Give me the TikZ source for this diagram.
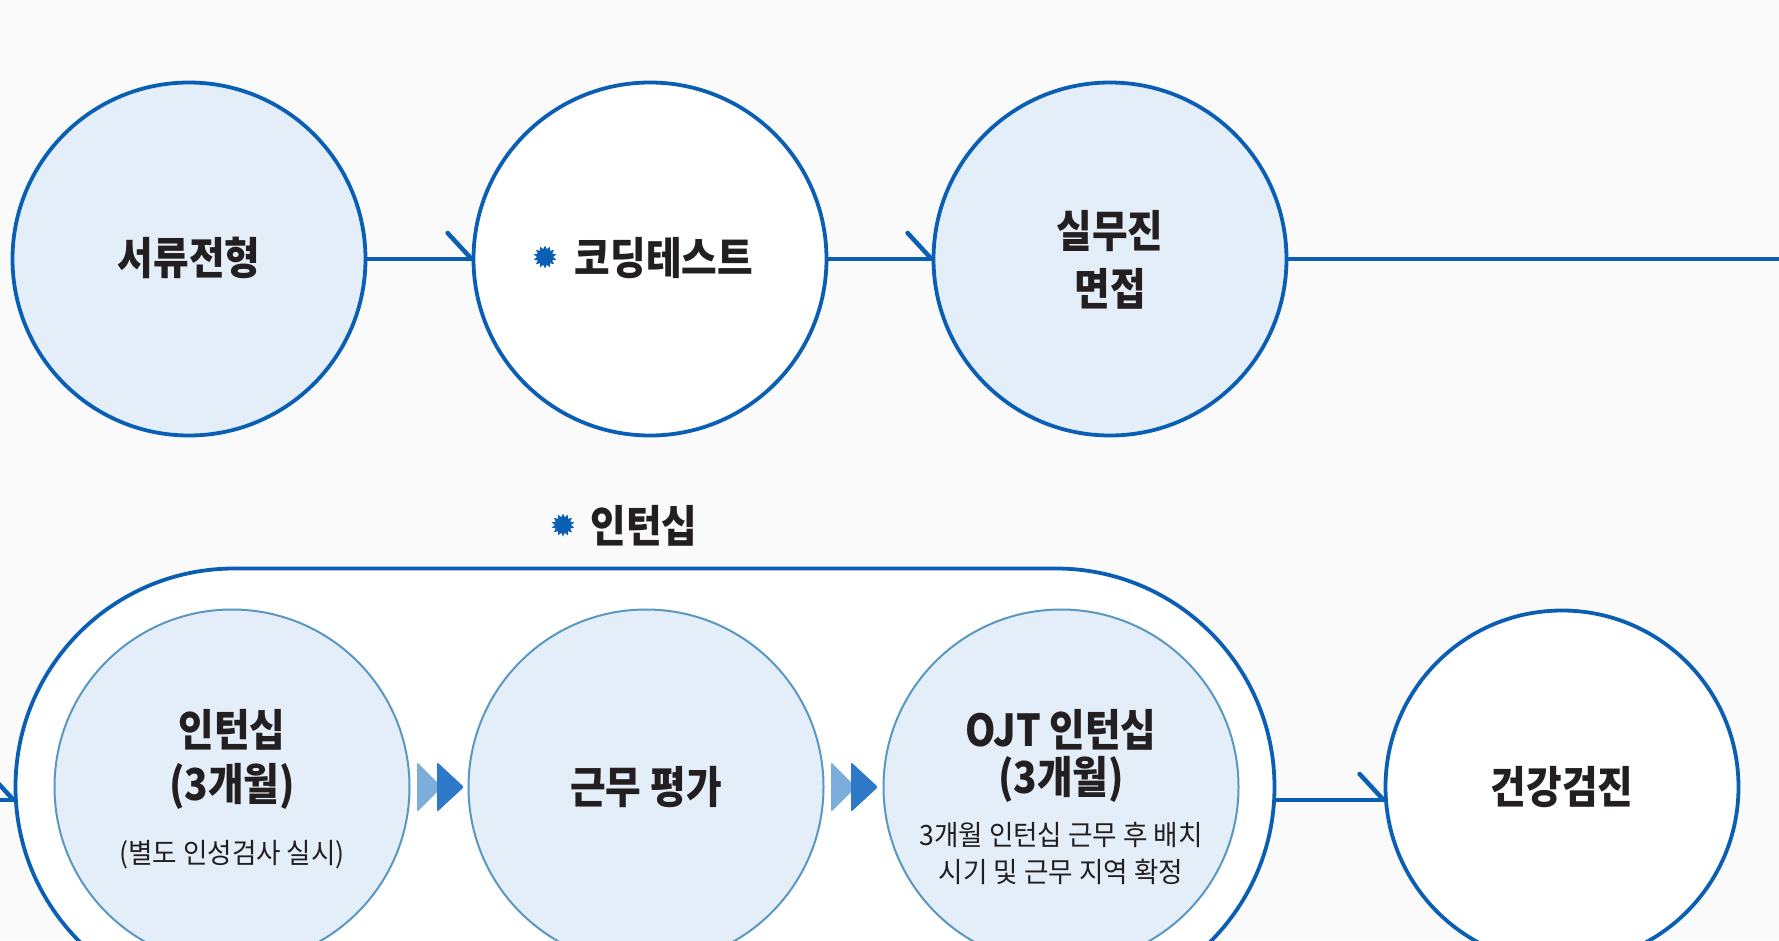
\documentclass[tikz,border=0pt]{standalone}
\usepackage{fontspec}
\newfontfamily\kr[FakeStretch=0.88]{Noto Sans CJK KR}
\newfontfamily\krs[FakeStretch=0.95]{Noto Sans CJK KR}
\usetikzlibrary{shapes.geometric,shapes.misc,calc}
\definecolor{mblue}{HTML}{0A5FB4}
\definecolor{sblue}{HTML}{5A97C2}
\definecolor{lfill}{HTML}{E3EEF8}
\definecolor{bgc}{HTML}{FAFAFA}
\definecolor{ink}{HTML}{231F20}
\definecolor{chevl}{HTML}{7DAEDB}
\definecolor{chevd}{HTML}{2D79C7}
\tikzset{
  bigc/.style={circle, draw=mblue, line width=3.8pt, minimum size=353pt, inner sep=0pt},
  innc/.style={circle, draw=sblue, line width=2pt, fill=lfill, minimum size=355pt, inner sep=0pt},
  tbig/.style={font=\kr\bfseries\fontsize{44}{58}\selectfont, text=ink, inner sep=0pt, align=center},
  tsmall/.style={font=\krs\fontsize{28}{37}\selectfont, text=ink, inner sep=0pt, align=center},
  flow/.style={draw=mblue, line width=4.5pt},
  barb/.style={draw=mblue, line width=4.5pt, line cap=round},
  burst/.style={star, star points=14, star point ratio=1.45, fill=mblue, draw=none, minimum size=23pt, inner sep=0pt},
}
\begin{document}
\begin{tikzpicture}[x=1pt,y=-1pt]
\useasboundingbox (0,0) rectangle (1779,940);
\clip (0,0) rectangle (1779,940);
\fill[bgc] (0,0) rectangle (1779,940);
% top row
\node[bigc, fill=lfill] (c1) at (189,259) {};
\node[bigc, fill=white] (c2) at (650,259) {};
\node[bigc, fill=lfill] (c3) at (1110,259) {};
\coordinate (outR) at (1779,259);
\node[tbig] (t1) at (189,258) {서류전형};
\node[burst] (s1) at (545,257) {};
\node[tbig] (t2) at (664,258) {코딩테스트};
\node[tbig] (t3) at (1110,260) {실무진\\면접};
\draw[flow] (c1.east) -- (c2.west);
\draw[barb] (c2.west) -- ++(-24,-26);
\draw[flow] (c2.east) -- (c3.west);
\draw[barb] (c3.west) -- ++(-24,-26);
\draw[flow] (c3.east) -- (outR);
% header
\node[burst] (s2) at (563,525) {};
\node[tbig] (hd) at (644,526) {인턴십};
% bottom row
\node[rounded rectangle, draw=mblue, line width=3.8pt, fill=white, minimum width=1259pt, minimum height=437pt, inner sep=0pt] (stad) at (645,787) {};
\coordinate (inL) at (0,800);
\draw[flow] (inL) -- ($(stad.west)+(0,13)$);
\draw[barb] ($(stad.west)+(0,13)$) -- ++(-24,-26);
\node[innc] (c4) at (232,787) {};
\node[innc] (c5) at (646,787) {};
\node[innc] (c6) at (1061,787) {};
\node[bigc, fill=white] (c7) at (1562,787) {};
\draw[flow] ($(stad.east)+(0,13)$) -- ($(c7.west)+(0,13)$);
\draw[barb] ($(c7.west)+(0,13)$) -- ++(-24,-26);
% texts in circles
\node[tbig] (t4a) at (232,730) {인턴십};
\node[tbig] (t4b) at (232,786) {(3개월)};
\node[tsmall] (t4c) at (232,855) {(별도 인성검사 실시)};
\node[tbig] (t5) at (646,787) {근무 평가};
\node[tbig] (t6a) at (1061,730) {OJT 인턴십};
\node[tbig] (t6b) at (1061,779) {(3개월)};
\node[tsmall] (t6c) at (1061,853) {3개월 인턴십 근무 후 배치\\시기 및 근무 지역 확정};
\node[tbig] (t7) at (1562,787) {건강검진};
% double chevrons
\foreach \dx in {0,414}{
  \fill[chevl, rounded corners=2pt] (417+\dx,762) -- (442+\dx,787) -- (417+\dx,812) -- cycle;
  \fill[chevd, rounded corners=2pt] (437+\dx,762) -- (464+\dx,787) -- (437+\dx,812) -- cycle;
}
\end{tikzpicture}
\end{document}
